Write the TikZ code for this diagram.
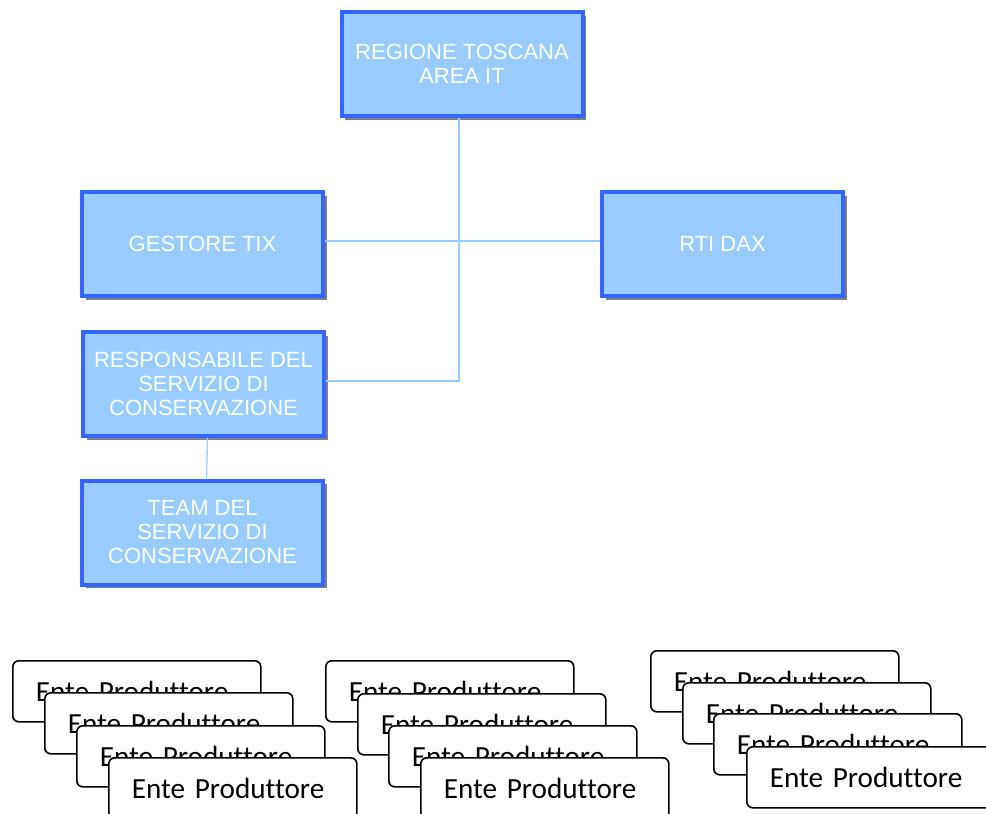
\documentclass[tikz,border=0pt]{standalone}
\usepackage{fontspec}
\newfontfamily\arialf{Liberation Sans}
\newfontfamily\calib[Ligatures=NoCommon]{Carlito}
\usetikzlibrary{shadows}
\definecolor{boxfill}{HTML}{99CCFF}
\definecolor{boxline}{HTML}{3366FF}
\definecolor{connc}{HTML}{99CCFF}
\tikzset{
  bluebox/.style={draw=boxline, line width=4pt, fill=boxfill, minimum width=241pt, minimum height=104pt,
    text=white, font=\arialf\fontsize{22}{24}\selectfont, align=center, inner sep=1pt,
    drop shadow={shadow xshift=3.5pt, shadow yshift=-3.5pt, fill=black!50, opacity=1}},
  connline/.style={draw=connc, line width=1.3pt},
  entebox/.style={draw=black, line width=1.6pt, rounded corners=6pt, fill=white, minimum height=61pt,
    text width=202pt, inner xsep=23pt, align=left, anchor=north west,
    font=\calib\fontsize{29.2}{34}\selectfont}
}
\begin{document}
\begin{tikzpicture}[x=1pt,y=-1pt]
\useasboundingbox (0,0) rectangle (986,814);
\clip (0,0) rectangle (986,814);
% blue org boxes
\node[bluebox] (top) at (462,64) {REGIONE TOSCANA\\AREA IT};
\node[bluebox] (gestore) at (202.5,244) {GESTORE TIX};
\node[bluebox] (rti) at (722.5,244) {RTI DAX};
\node[bluebox] (resp) at (203.5,384) {RESPONSABILE DEL\\SERVIZIO DI\\CONSERVAZIONE};
\node[bluebox] (team) at (202.5,532.5) {TEAM DEL\\SERVIZIO DI\\CONSERVAZIONE};
% connectors
\draw[connline] ([xshift=-3pt]top.south) |- ([yshift=3pt]resp.east);
\draw[connline] ([yshift=3pt]gestore.east) -- ([yshift=3pt]rti.west);
\draw[connline] ([xshift=4pt]resp.south) -- ([xshift=4pt]team.north);
% group 1
\node[entebox] (g1a) at (12,660) {Ente Produttore};
\node[entebox] (g1b) at (44,692) {Ente Produttore};
\node[entebox] (g1c) at (76,725) {Ente Produttore};
\node[entebox] (g1d) at (108,757) {Ente Produttore};
% group 2
\node[entebox] (g2a) at (325,660) {Ente Produttore};
\node[entebox] (g2b) at (357,693) {Ente Produttore};
\node[entebox] (g2c) at (388,725) {Ente Produttore};
\node[entebox] (g2d) at (420,757) {Ente Produttore};
% group 3
\node[entebox] (g3a) at (650,650) {Ente Produttore};
\node[entebox] (g3b) at (682,682) {Ente Produttore};
\node[entebox] (g3c) at (713,713) {Ente Produttore};
\node[entebox] (g3d) at (746,746) {Ente Produttore};
\end{tikzpicture}
\end{document}
